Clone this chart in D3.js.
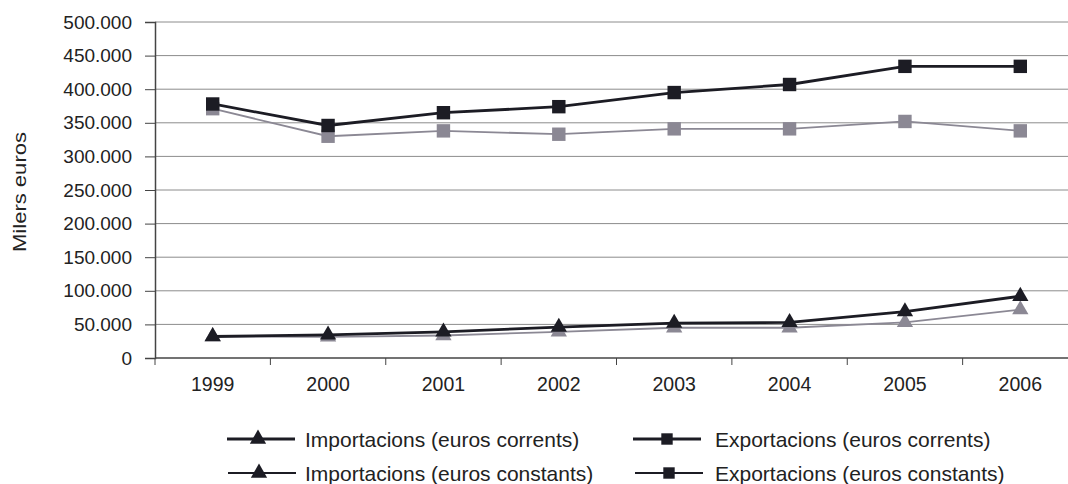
<!DOCTYPE html>
<html>
<head>
<meta charset="utf-8">
<script src="https://cdn.jsdelivr.net/npm/d3@7"></script>
<style>
  body { margin: 0; background: #fff; }
  svg { font-family: "Liberation Sans", Arial, sans-serif; }
  .grid line { stroke: #8c8c8c; stroke-width: 1; }
</style>
</head>
<body>
<svg id="chart" width="1068" height="484"></svg>
<script>
var years = ["1999","2000","2001","2002","2003","2004","2005","2006"];
var yTicks = [0,50000,100000,150000,200000,250000,300000,350000,400000,450000,500000];

// values in milers euros
var impCorrents = [32000, 34500, 39000, 46000, 52000, 53000, 69000, 92000];
var impConstants = [32000, 31500, 33500, 39000, 45000, 45000, 53000, 72000];
var expCorrents = [378000, 346000, 365000, 374000, 395000, 407000, 434000, 434000];
var expConstants = [371000, 330000, 338000, 333000, 341000, 341000, 352000, 338000];

var svg = d3.select("#chart");

var x = d3.scaleBand().domain(years).range([155, 1078]);
var y = d3.scaleLinear().domain([0, 500000]).range([358, 22]);

var fmt = function(d) { return d3.format(",")(d).replace(/,/g, "."); };

// gridlines
svg.append("g").attr("class", "grid")
  .selectAll("line").data(yTicks.slice(1)).enter().append("line")
  .attr("x1", 155).attr("x2", 1078)
  .attr("y1", function(d) { return y(d); })
  .attr("y2", function(d) { return y(d); });

// y axis
var yAxis = svg.append("g")
  .attr("transform", "translate(155,0)")
  .call(d3.axisLeft(y).tickValues(yTicks).tickFormat(fmt).tickSize(10).tickPadding(13));
yAxis.select(".domain").attr("stroke", "#444").attr("stroke-width", 1.5);
yAxis.selectAll(".tick line").attr("stroke", "#444");
yAxis.selectAll("text").attr("font-size", 19).attr("fill", "#222");

// x axis with ticks between categories
var xg = svg.append("g").attr("transform", "translate(0,358)");
xg.append("line").attr("x1", 155).attr("x2", 1078).attr("stroke", "#444").attr("stroke-width", 1.5);
xg.selectAll(".xt").data(years).enter().append("line")
  .attr("x1", function(d) { return x(d); }).attr("x2", function(d) { return x(d); })
  .attr("y1", 0).attr("y2", 7).attr("stroke", "#444");
xg.selectAll(".xl").data(years).enter().append("text")
  .attr("x", function(d) { return x(d) + x.bandwidth() / 2; })
  .attr("y", 33)
  .attr("text-anchor", "middle")
  .attr("font-size", 19.5).attr("fill", "#222")
  .text(function(d) { return d; });

svg.append("text")
  .attr("transform", "translate(26,192) rotate(-90)")
  .attr("text-anchor", "middle")
  .attr("font-size", 19).attr("fill", "#222")
  .attr("textLength", 120).attr("lengthAdjust", "spacingAndGlyphs")
  .text("Milers euros");

var cx = function(i) { return x(years[i]) + x.bandwidth() / 2; };

var series = [
  {values: expConstants, color: "#8b8894", width: 1.8, marker: "square"},
  {values: impConstants, color: "#8b8894", width: 1.8, marker: "triangle"},
  {values: expCorrents, color: "#1c1c24", width: 2.8, marker: "square"},
  {values: impCorrents, color: "#1c1c24", width: 2.8, marker: "triangle"}
];

var line = d3.line()
  .x(function(d, i) { return cx(i); })
  .y(function(d) { return y(d); });

var sq = d3.symbol().type(d3.symbolSquare).size(180);
var tri = d3.symbol().type(d3.symbolTriangle).size(115);

series.forEach(function(s) {
  svg.append("path").datum(s.values)
    .attr("d", line)
    .attr("fill", "none")
    .attr("stroke", s.color)
    .attr("stroke-width", s.width);
  svg.selectAll(null).data(s.values).enter().append("path")
    .attr("d", s.marker == "square" ? sq : tri)
    .attr("transform", function(d, i) { return "translate(" + cx(i) + "," + y(d) + ")"; })
    .attr("fill", s.color);
});

// legend
var legendItems = [
  {label: "Importacions (euros corrents)", marker: "triangle", x: 227, y: 439, w: 2.8, tx: 78},
  {label: "Exportacions (euros corrents)", marker: "square", x: 633, y: 439, w: 2.8, tx: 82},
  {label: "Importacions (euros constants)", marker: "triangle", x: 228, y: 473, w: 1.8, tx: 77},
  {label: "Exportacions (euros constants)", marker: "square", x: 635, y: 473, w: 1.8, tx: 80}
];

var sqSmall = d3.symbol().type(d3.symbolSquare).size(130);
var legend = svg.append("g");
legendItems.forEach(function(l) {
  var g = legend.append("g").attr("transform", "translate(" + l.x + "," + l.y + ")");
  g.append("line").attr("x1", 0).attr("x2", 68).attr("stroke", "#1c1c24").attr("stroke-width", l.w);
  g.append("path")
    .attr("d", l.marker == "square" ? sqSmall : tri)
    .attr("transform", "translate(" + (l.marker == "square" ? 34 : 31) + ",0)")
    .attr("fill", "#1c1c24");
  g.append("text")
    .attr("x", l.tx)
    .attr("y", 7.5)
    .attr("font-size", 21).attr("fill", "#222")
    .text(l.label);
});
</script>
</body>
</html>
